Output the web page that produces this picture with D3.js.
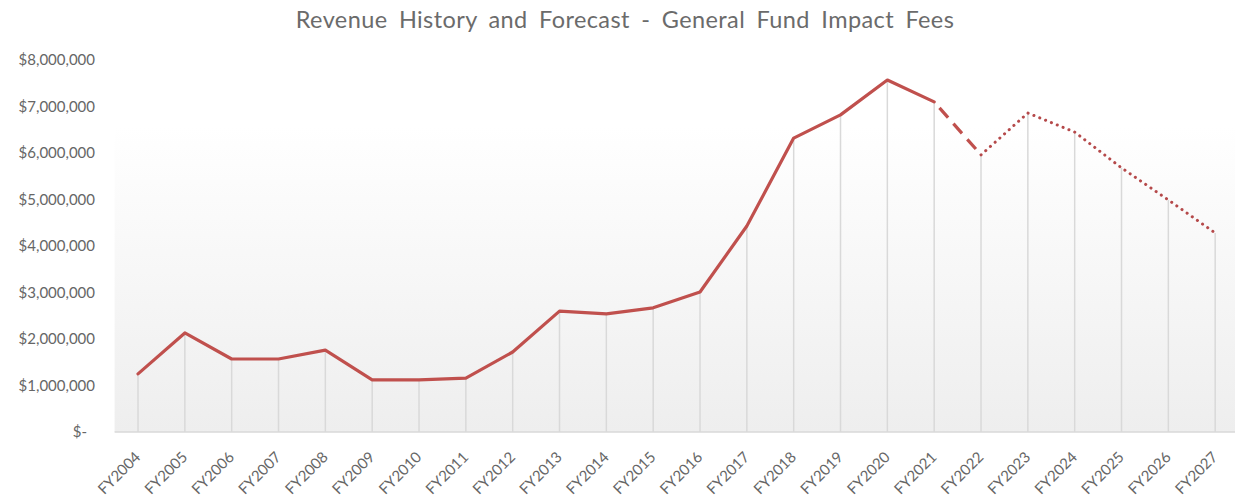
<!DOCTYPE html>
<html>
<head>
<meta charset="utf-8">
<script src="https://cdn.jsdelivr.net/npm/d3@7"></script>
<style>
  html, body { margin: 0; padding: 0; background: #fff; }
  svg { display: block; font-family: Lato, "Open Sans", sans-serif; }
</style>
</head>
<body>
<svg id="chart" width="1235" height="502"></svg>
<script>
// Fiscal years shown on the category axis
const years = ["FY2004","FY2005","FY2006","FY2007","FY2008","FY2009","FY2010","FY2011",
  "FY2012","FY2013","FY2014","FY2015","FY2016","FY2017","FY2018","FY2019","FY2020",
  "FY2021","FY2022","FY2023","FY2024","FY2025","FY2026","FY2027"];

// Impact fee revenue in dollars (actuals through FY2021, estimate FY2022, forecast after)
const revenue = [1250000, 2130000, 1570000, 1570000, 1760000, 1120000, 1120000, 1160000,
  1720000, 2600000, 2540000, 2670000, 3010000, 4430000, 6320000, 6820000, 7570000,
  7100000, 5960000, 6860000, 6450000, 5680000, 4990000, 4280000];

// Segments of the line: actual (solid), estimate (dashed), forecast (dotted)
const actualYears = years.slice(0, 18);
const estimateYears = ["FY2021", "FY2022"];
const forecastYears = years.slice(18);

const yTicks = [0, 1000000, 2000000, 3000000, 4000000, 5000000, 6000000, 7000000, 8000000];

const svg = d3.select("#chart");
const plot = { left: 114.6, right: 1238.6, top: 60, bottom: 432 };

const x = d3.scalePoint().domain(years).range([plot.left, plot.right]).padding(0.5);
const y = d3.scaleLinear().domain([0, 8000000]).range([plot.bottom, plot.top]);

const valueOf = new Map(years.map((yr, i) => [yr, revenue[i]]));

// Plot-area background: white at the top fading to light gray
const defs = svg.append("defs");
const grad = defs.append("linearGradient").attr("id", "bg").attr("x1", 0).attr("y1", 0).attr("x2", 0).attr("y2", 1);
grad.append("stop").attr("offset", "0%").attr("stop-color", "#ffffff");
grad.append("stop").attr("offset", "18%").attr("stop-color", "#ffffff");
grad.append("stop").attr("offset", "100%").attr("stop-color", "#eeeeee");

svg.append("rect")
  .attr("x", plot.left).attr("y", plot.top)
  .attr("width", plot.right - plot.left).attr("height", plot.bottom - plot.top)
  .attr("fill", "url(#bg)");

// Title
svg.append("text")
  .attr("x", 625).attr("y", 28)
  .attr("text-anchor", "middle")
  .attr("font-size", 23.5)
  .attr("word-spacing", 5)
  .attr("letter-spacing", 0.4)
  .attr("fill", "#6b6b6b")
  .text("Revenue History and Forecast - General Fund Impact Fees");

// Drop lines from each point to the axis
svg.append("g").selectAll("line").data(years).join("line")
  .attr("x1", d => x(d)).attr("x2", d => x(d))
  .attr("y1", d => y(valueOf.get(d))).attr("y2", plot.bottom)
  .attr("stroke", "#d9d9d9").attr("stroke-width", 1.5);

// Category axis
const xAxis = svg.append("g")
  .attr("transform", `translate(0,${plot.bottom})`)
  .call(d3.axisBottom(x).tickSize(0).tickPadding(0));
xAxis.select(".domain").attr("stroke", "#d9d9d9").attr("stroke-width", 1.5)
  .attr("d", `M${plot.left},0H${plot.right}`);
xAxis.selectAll("text")
  .attr("font-family", "Lato, 'Open Sans', sans-serif")
  .attr("font-size", 15)
  .attr("fill", "#666")
  .attr("text-anchor", "end")
  .attr("dy", 0)
  .attr("transform", "translate(3,26) rotate(-45)");

// Value axis (labels only)
const fmt = d => d === 0 ? "$-" : "$" + d3.format(",")(d);
const yAxis = svg.append("g")
  .attr("transform", `translate(95,0)`)
  .call(d3.axisLeft(y).tickValues(yTicks).tickFormat(fmt).tickSize(0).tickPadding(0));
yAxis.select(".domain").remove();
yAxis.selectAll("text")
  .attr("font-family", "Lato, 'Open Sans', sans-serif")
  .attr("font-size", 15)
  .attr("fill", "#666")
  .attr("dx", d => d === 0 ? -8 : 0);

// Revenue line
const line = d3.line().x(d => x(d)).y(d => y(valueOf.get(d)));
const red = "#c0504d";

svg.append("path").datum(actualYears).attr("d", line)
  .attr("fill", "none").attr("stroke", red).attr("stroke-width", 3.2)
  .attr("stroke-linejoin", "round").attr("stroke-linecap", "round");

svg.append("path").datum(estimateYears).attr("d", line)
  .attr("fill", "none").attr("stroke", red).attr("stroke-width", 3.2)
  .attr("stroke-dasharray", "13,8").attr("stroke-dashoffset", -8);

svg.append("path").datum(forecastYears).attr("d", line)
  .attr("fill", "none").attr("stroke", "#b5494a").attr("stroke-width", 3)
  .attr("stroke-linecap", "round").attr("stroke-dasharray", "0.1,6.2");
</script>
</body>
</html>
